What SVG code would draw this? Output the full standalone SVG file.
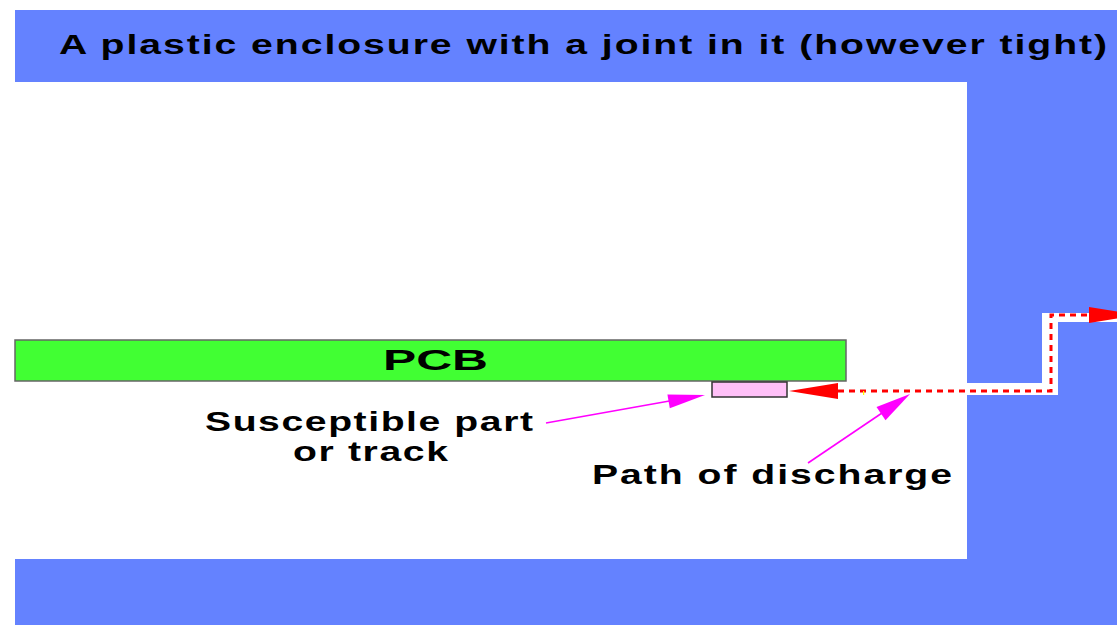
<svg xmlns="http://www.w3.org/2000/svg" width="1117" height="643" viewBox="0 0 1117 643">
  <style>
    .blue { fill: #6482ff; }
    .lbl { font-family: "Liberation Sans", Arial, sans-serif; font-weight: bold; fill: #000; }
    .red { fill: #ff0000; }
    .mag { fill: #ff00ff; }
    .magline { stroke: #ff00ff; stroke-width: 1.6; fill: none; }
    .dash { stroke: #ff0000; stroke-width: 3; fill: none; stroke-dasharray: 6 5; }
  </style>
  <rect width="1117" height="643" fill="#ffffff"/>
  <g id="enclosure">
    <rect class="blue" x="15" y="10" width="1102" height="72"/>
    <rect class="blue" x="967" y="82" width="150" height="543"/>
    <rect class="blue" x="15" y="559" width="952" height="66"/>
    <polygon id="joint" fill="#ffffff" points="967,383 1042,383 1042,313 1117,313 1117,322 1058,322 1058,395 967,395"/>
    <text class="lbl" font-size="27" transform="translate(59,54) scale(1.45,1)" textLength="722.8" lengthAdjust="spacing">A plastic enclosure with a joint in it (however tight)</text>
  </g>
  <g id="pcb">
    <rect x="15" y="340" width="831" height="41" fill="#41ff33" stroke="#666666" stroke-width="1.5"/>
    <text class="lbl" font-size="29" x="383" y="370" textLength="105" lengthAdjust="spacingAndGlyphs">PCB</text>
  </g>
  <g id="part">
    <rect x="712" y="382" width="75" height="15" fill="#ffc0f8" stroke="#333333" stroke-width="1.5"/>
  </g>
  <g id="label-part">
    <text class="lbl" font-size="27" transform="translate(205,431) scale(1.45,1)" textLength="226.2" lengthAdjust="spacing">Susceptible part</text>
    <text class="lbl" font-size="27" transform="translate(293,461) scale(1.45,1)" textLength="106.9" lengthAdjust="spacing">or track</text>
  </g>
  <g id="label-path">
    <text class="lbl" font-size="27" transform="translate(592,484) scale(1.45,1)" textLength="248.3" lengthAdjust="spacing">Path of discharge</text>
  </g>
  <g id="connectors">
    <path class="dash" d="M838,391 H1051 V315 H1090"/>
    <polygon class="red" points="789,391 838,383 838,399"/>
    <polygon class="red" points="1138,315 1089,307 1089,323"/>
    <rect x="863" y="391" width="1.2" height="4" fill="#ffff00"/>
    <line class="magline" x1="546" y1="423" x2="675" y2="400"/>
    <polygon class="mag" points="705,395 667.4,394.5 669.8,408.3"/>
    <line class="magline" x1="808" y1="463" x2="885" y2="411"/>
    <polygon class="mag" points="910,394 876.5,407 885.5,420.2"/>
  </g>
</svg>
